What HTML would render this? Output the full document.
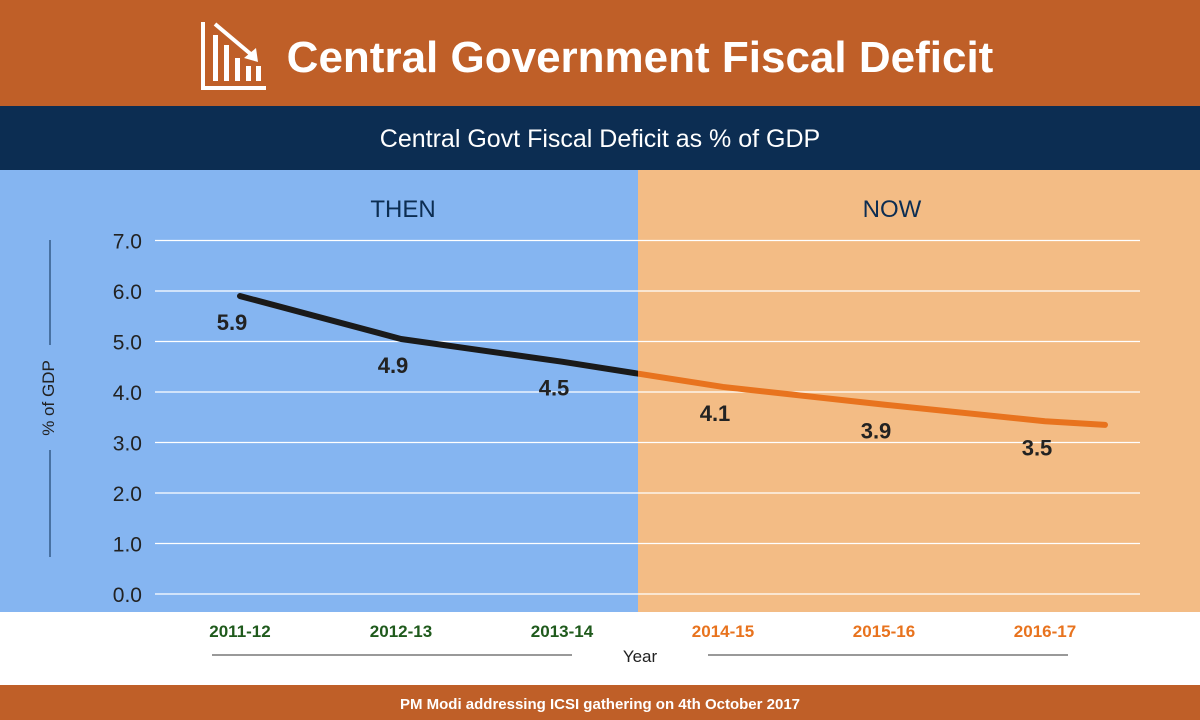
<!DOCTYPE html>
<html><head><meta charset="utf-8"><style>
body{margin:0;width:1200px;height:720px;overflow:hidden;font-family:"Liberation Sans",sans-serif}
svg{display:block}
</style></head><body>
<svg width="1200" height="720">
<rect x="0" y="0" width="1200" height="106" fill="#bf5f28"/>
<g fill="#fff" stroke="#fff">
<polyline points="203,22 203,88 266,88" fill="none" stroke-width="4"/>
<rect x="213" y="35" width="5" height="46" stroke="none"/>
<rect x="224" y="45" width="5" height="36" stroke="none"/>
<rect x="235" y="58" width="5" height="23" stroke="none"/>
<rect x="246" y="66" width="5" height="15" stroke="none"/>
<rect x="256" y="66" width="5" height="15" stroke="none"/>
<line x1="215" y1="24" x2="253" y2="56" stroke-width="4"/>
<polygon points="258,62 244,58 256,48" stroke="none"/>
</g>
<text x="640" y="72" text-anchor="middle" font-size="44" font-weight="bold" fill="#fff">Central Government Fiscal Deficit</text>
<rect x="0" y="106" width="1200" height="64" fill="#0c2d52"/>
<text x="600" y="147" text-anchor="middle" font-size="25" fill="#fff">Central Govt Fiscal Deficit as % of GDP</text>
<rect x="0" y="170" width="638" height="442" fill="#85b5f1"/>
<rect x="638" y="170" width="562" height="442" fill="#f3bc85"/>
<text x="403" y="217" text-anchor="middle" font-size="24" fill="#0c2d52">THEN</text>
<text x="892" y="217" text-anchor="middle" font-size="24" fill="#0c2d52">NOW</text>
<rect x="0" y="612" width="1200" height="73" fill="#fff"/>
<g id="grid"></g><g id="yt"></g><g id="xt"></g><g id="ln"></g><g id="lb"></g>
<line x1="50" y1="240" x2="50" y2="345" stroke="#0c2d52" stroke-width="1"/>
<line x1="50" y1="450" x2="50" y2="557" stroke="#0c2d52" stroke-width="1"/>
<text transform="translate(54,398) rotate(-90)" text-anchor="middle" font-size="17" fill="#222">% of GDP</text>
<line x1="212" y1="655" x2="572" y2="655" stroke="#333" stroke-width="1"/>
<line x1="708" y1="655" x2="1068" y2="655" stroke="#333" stroke-width="1"/>
<text x="640" y="662" text-anchor="middle" font-size="17" fill="#222">Year</text>
<rect x="0" y="685" width="1200" height="35" fill="#bf5f28"/>
<text x="600" y="709" text-anchor="middle" font-size="15" font-weight="bold" fill="#fff">PM Modi addressing ICSI gathering on 4th October 2017</text>
<defs><clipPath id="cl"><rect x="0" y="0" width="638" height="720"/></clipPath><clipPath id="cr"><rect x="638" y="0" width="562" height="720"/></clipPath></defs>
</svg>
<script>
const categories=["2011-12","2012-13","2013-14","2014-15","2015-16","2016-17"];
const values=[5.9,4.9,4.5,4.1,3.9,3.5];
const lineValues=[5.9,5.05,4.6,4.1,3.75,3.42];
const yTicks=[0,1,2,3,4,5,6,7];
const NS="http://www.w3.org/2000/svg";
const X0=240,X1=1045;
function xs(i){return X0+(X1-X0)*i/(categories.length-1);}
function ys(v){return 594-v*50.5;}
function mk(t,a,p,txt){const e=document.createElementNS(NS,t);for(const k in a)e.setAttribute(k,a[k]);if(txt!==undefined)e.textContent=txt;document.getElementById(p).appendChild(e);return e;}
yTicks.forEach(v=>{
 const g=mk('line',{x1:155,x2:1140,y1:ys(v),y2:ys(v),stroke:'#fff','stroke-width':1.3},'grid');
 
 
 const t=mk('text',{x:142,y:ys(v)+8,'text-anchor':'end','font-size':21,fill:'#222'},'yt',v.toFixed(1));
 
 
});
categories.forEach((c,i)=>{
 const t=mk('text',{x:xs(i),y:637,'text-anchor':'middle','font-size':17,'font-weight':'bold',fill:i<3?'#1f5a1c':'#e8731e'},'xt',c);
 
 
});
let d='';
lineValues.forEach((v,i)=>{d+=(i?' L':'M')+xs(i)+','+ys(v);});
const endX=1105,endY=ys(lineValues[5]-0.07);
d+=' L'+endX+','+endY;
const l1=mk('path',{d:d,fill:'none',stroke:'#1a1a1a','stroke-width':6,'stroke-linecap':'round','stroke-linejoin':'round','clip-path':'url(#cl)'},'ln');


const l2=mk('path',{d:d,fill:'none',stroke:'#e8731e','stroke-width':6,'stroke-linecap':'round','stroke-linejoin':'round','clip-path':'url(#cr)'},'ln');


values.forEach((v,i)=>{
 const t=mk('text',{x:xs(i)-8,y:ys(lineValues[i])+34,'text-anchor':'middle','font-size':22,'font-weight':'bold',fill:'#222'},'lb',v.toFixed(1));
 
 
});
</script>
</body></html>
